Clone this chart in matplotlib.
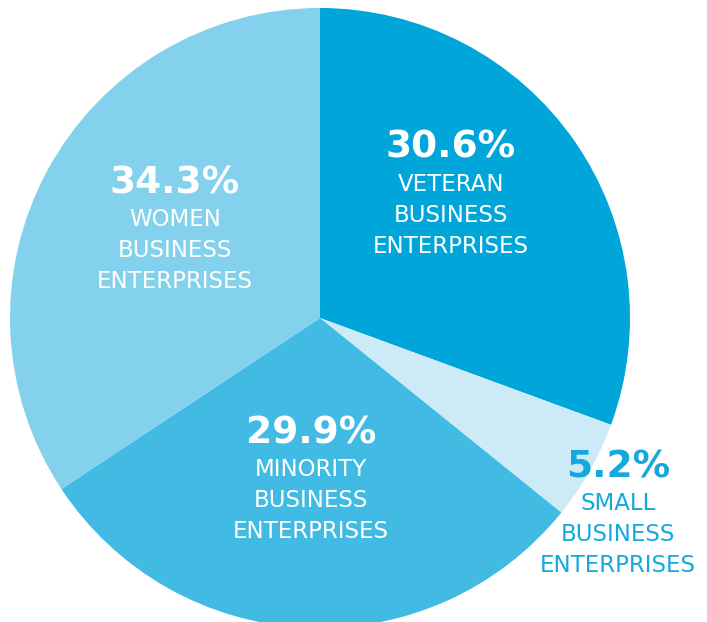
import matplotlib.pyplot as plt

# Slice data, clockwise from 12 o'clock
categories = ['VETERAN\nBUSINESS\nENTERPRISES', 'SMALL\nBUSINESS\nENTERPRISES',
              'MINORITY\nBUSINESS\nENTERPRISES', 'WOMEN\nBUSINESS\nENTERPRISES']
shares = [30.6, 5.2, 29.9, 34.3]
colors = ['#00a6da', '#cdebf6', '#42bbe4', '#83d1ec']

# label anchor in pixels: centre x, baseline y of the percent line
label_pos = [(451, 158), (618, 477), (311, 443), (175, 193)]
label_colors = ['white', '#14a9dc', 'white', 'white']

W, H = 707, 622
cx, cy, R = 320, 318, 310

fig = plt.figure(figsize=(W / 100, H / 100), dpi=100)
ax = fig.add_axes([0, 0, 1, 1])
ax.pie(shares, colors=colors, startangle=90, counterclock=False, radius=1,
       wedgeprops=dict(linewidth=0))
ax.set_xlim(-cx / R, (W - cx) / R)
ax.set_ylim(-(H - cy) / R, cy / R)
ax.axis('off')

font = ['DejaVu Sans']
for cat, val, (px, py), col in zip(categories, shares, label_pos, label_colors):
    fig.text(px / W, 1 - py / H, f'{val}%', ha='center', va='baseline',
             fontsize=27, fontweight='bold', color=col, family=font)
    for i, line in enumerate(cat.split('\n')):
        ly = py + 33 + i * 31
        fig.text(px / W, 1 - ly / H, line, ha='center', va='baseline',
                 fontsize=16.5, color=col, family=font)

fig.savefig('out.png', dpi=100)
